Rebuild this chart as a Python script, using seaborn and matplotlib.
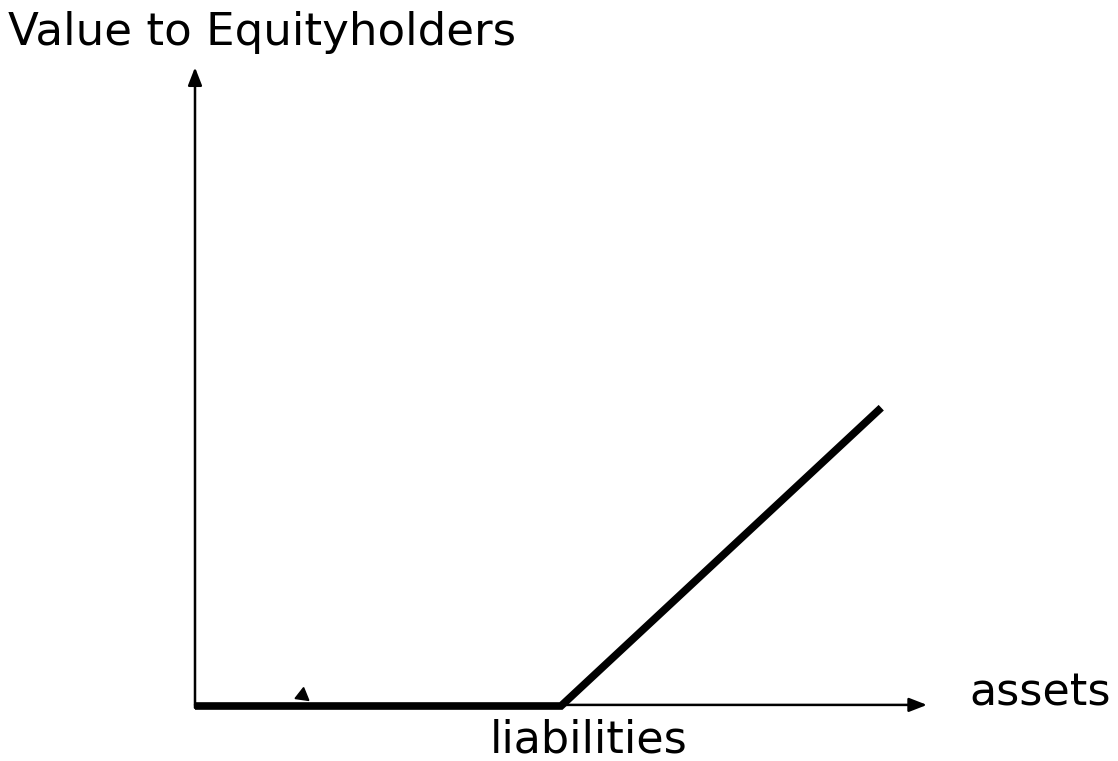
import pandas as pd
import matplotlib.pyplot as plt
import seaborn as sns

# payoff to equityholders: zero up to liabilities, then rises one-for-one
assets = [0.0, 1.0, 1.875]
equity = [0.0, 0.0, 0.815]
liabilities = 1.0

x_axis_end = 2.0
y_axis_end = 1.745

sns.set_theme(style="white")
plt.rcParams['font.family'] = ['DejaVu Sans']

df = pd.DataFrame({"assets": assets, "equity": equity})

fig = plt.figure(figsize=(11.18, 7.61), dpi=100)
ax = fig.add_axes([0, 0, 1, 1])
ax.set_xlim(-195 / 366, (1118 - 195) / 366)
ax.set_ylim(-55 / 366, 706 / 366)
ax.axis("off")

# axes with arrow heads
arrow = dict(arrowstyle="-|>,head_length=0.9,head_width=0.35", color="black", lw=1.8,
             shrinkA=0, shrinkB=0)
ax.annotate("", xy=(0, y_axis_end), xytext=(0, -0.005), arrowprops=arrow)
ax.annotate("", xy=(x_axis_end, 0.003), xytext=(0, 0.003), arrowprops=arrow)

# payoff line
sns.lineplot(data=df, x="assets", y="equity", ax=ax, color="black", linewidth=5.5,
             solid_capstyle="butt", solid_joinstyle="miter", legend=False)

# stray small arrow head on the flat segment
ax.plot([0.293], [0.03], marker=(3, 0, -8), markersize=11.5, color="black")

ax.text(-0.51, 1.806, "Value to Equityholders", fontsize=32.5, color="black",
        ha="left", va="baseline")
ax.text(2.115, 0.0, "assets", fontsize=32, color="black", ha="left", va="baseline")
ax.text(liabilities + 0.075, -0.127, "liabilities", fontsize=32, color="black",
        ha="center", va="baseline")

fig.savefig("out.png", dpi=100)
